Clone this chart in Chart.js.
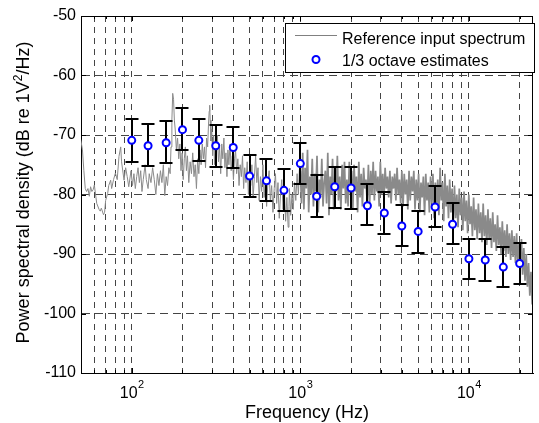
<!DOCTYPE html>
<html>
<head>
<meta charset="utf-8">
<script src="https://cdn.jsdelivr.net/npm/chart.js@4.4.0/dist/chart.umd.min.js"></script>
<style>
    html, body { margin: 0; padding: 0; background: #fff; }
    #wrap { width: 539px; height: 423px; position: relative; }
    #psdChart { display: block; width: 539px; height: 423px; }
</style>
</head>
<body>
<div id="wrap"><canvas id="psdChart" width="539" height="423"></canvas></div>
<script>
// 1/3 octave band centres (Hz) and estimated levels (dB re 1V^2/Hz)
const bandFreqs = [100, 125, 160, 200, 250, 315, 400, 500, 630, 800, 1000, 1250, 1600, 2000, 2500, 3150, 4000, 5000, 6300, 8000, 10000, 12500, 16000, 20000];
const bandLevels = [-70.9, -71.8, -71.3, -69.1, -70.9, -71.8, -72.1, -76.9, -77.7, -79.3, -74.8, -80.3, -78.7, -78.9, -81.9, -83.1, -85.3, -86.2, -82.1, -85.0, -90.8, -91.0, -92.2, -91.6];
const bandUpper = [-67.3, -68.2, -67.7, -65.5, -67.3, -68.4, -68.6, -73.4, -74.1, -75.7, -71.3, -76.7, -75.3, -75.3, -78.3, -79.6, -81.8, -82.7, -78.5, -81.4, -87.4, -87.5, -88.8, -88.2];
const bandLower = [-74.5, -75.2, -74.7, -72.6, -74.4, -75.3, -75.5, -80.5, -81.1, -82.8, -78.2, -83.8, -82.3, -82.4, -85.1, -86.7, -88.7, -89.8, -85.4, -88.3, -94.2, -94.5, -95.6, -95.0];

// reference input spectrum, [frequency Hz, level dB]
const spectrum = [
    [48, -69], [50, -71], [51, -72.5], [52, -76], [53, -79], [54, -79.5], [55, -79], [56, -80.3], [57, -78.7], [58, -79.5],
    [59, -79.2], [60, -78.4], [61, -80], [62, -81.5], [64, -82.5], [65, -82.8], [66, -82.3], [68, -83.4], [69, -83], [70, -81],
    [72, -79.8], [73, -78.5], [75, -77.6], [76, -79], [78, -77.5], [80, -76.4], [82, -77.5], [84, -73.6], [86, -72], [87, -74.5],
    [90, -77.6], [92, -75.5], [94, -77], [96, -78.7], [99, -76], [101, -78.5], [103, -76.5], [105, -79], [107, -77], [109, -75.5],
    [111, -78], [113, -76], [115, -79.5], [117, -77.5], [120, -75], [122, -77.5], [125, -79], [127, -76.5], [130, -78], [133, -75.5],
    [136, -77.5], [139, -80], [142, -76.5], [145, -78.5], [148, -76], [151, -78], [154, -75], [157, -80.2], [160, -77], [163, -78.5],
    [166, -75.5], [169, -76.5], [171, -72], [173, -67.5], [175, -63], [177, -64], [179, -67.5], [181, -69], [184, -72.5], [187, -70.5],
    [190, -74], [193, -71.5], [196, -76], [199, -73], [202, -77.5], [205, -74], [208, -72], [211, -76], [214, -73.5], [218, -78],
    [222, -74.5], [226, -76.5], [230, -73], [234, -77], [238, -75], [242, -79], [246, -74], [250, -76.5], [254, -72.5], [258, -75],
    [262, -71.5], [266, -74], [270, -72], [274, -75.5], [278, -70.5], [282, -72], [285, -68.5], [288, -66], [290, -65], [292, -67.5],
    [295, -71], [298, -69], [302, -73.5], [306, -70], [310, -75], [314, -71.5], [318, -73], [322, -70], [327, -74.5], [332, -72],
    [337, -76.5], [342, -71.5], [347, -74], [352, -70.5], [357, -75.5], [362, -73], [367, -77], [372, -72.5], [377, -75], [383, -71.5],
    [389, -76], [395, -73.5], [401, -77.5], [407, -74], [413, -72.5], [419, -76.5], [426, -74], [433, -78.5], [440, -75], [447, -77],
    [454, -73.5], [461, -79], [468, -75.5], [476, -78], [484, -74.5], [492, -80], [500, -76], [508, -78.5], [516, -75], [525, -80.5],
    [534, -77], [543, -73.5], [552, -78], [561, -75.5], [570, -81], [580, -77], [590, -79.5], [600, -75], [610, -80.5], [620, -77.5],
    [631, -82], [642, -78], [653, -76], [664, -81], [676, -78.5], [688, -83], [700, -79], [712, -76.5], [724, -81.5], [737, -78],
    [750, -84], [763, -80], [776, -77.5], [790, -82.5], [804, -79], [818, -84.5], [832, -80.5], [847, -85.5], [856, -82], [862, -79],
    [877, -83.5], [892, -80], [908, -82.5], [924, -78], [940, -81], [957, -76.5], [974, -80], [990, -75],
    [1000, -76], [1016, -81.5], [1033, -73], [1050, -82.5], [1067, -75.5], [1085, -79], [1103, -72.5], [1121, -83], [1139, -77], [1158, -80],
    [1177, -74], [1196, -82], [1216, -76.5], [1236, -79.5], [1256, -73.5], [1277, -83], [1298, -77.5], [1319, -80.5], [1341, -74], [1363, -82],
    [1385, -78], [1408, -76], [1431, -81.5], [1455, -73], [1479, -83.5], [1503, -77], [1528, -80], [1553, -74], [1578, -82.5], [1604, -76.5],
    [1631, -79.5], [1658, -73.5], [1685, -81], [1713, -77], [1741, -82.5], [1770, -75], [1799, -79], [1828, -74.5], [1858, -81.5], [1889, -77.5],
    [1920, -82], [1952, -74.5], [1984, -80], [2016, -76], [2049, -82.5], [2083, -75], [2117, -79.5], [2152, -77], [2188, -83], [2224, -74.5],
    [2260, -80.5], [2297, -76.5], [2335, -82], [2374, -75.5], [2413, -79], [2452, -77.5], [2493, -81.5], [2534, -75], [2575, -82], [2618, -76],
    [2661, -80], [2705, -74.5], [2749, -81], [2794, -76], [2840, -79.5], [2887, -77], [2935, -82], [2983, -74.5], [3032, -80], [3082, -76.5],
    [3133, -81], [3184, -75.5], [3237, -79], [3290, -77], [3344, -80.5], [3399, -76], [3455, -81.5], [3512, -77], [3570, -79], [3629, -76.5],
    [3688, -81], [3749, -75.5], [3811, -80], [3874, -77.5], [3937, -81.5], [4002, -76], [4068, -82], [4135, -76.5], [4203, -80], [4272, -77.5],
    [4342, -82.5], [4414, -76], [4486, -81], [4560, -77], [4635, -79.5], [4712, -76], [4789, -82.5], [4868, -77.5], [4948, -81], [5030, -76.5],
    [5113, -83], [5197, -78], [5282, -80.5], [5369, -77], [5458, -83.5], [5548, -76.5], [5639, -81], [5732, -78], [5826, -83], [5922, -77],
    [6020, -81.5], [6119, -76.5], [6220, -84], [6322, -78], [6426, -82], [6532, -77.5], [6639, -83.5], [6749, -75.5], [6860, -81], [6973, -78],
    [7088, -84.5], [7204, -76.5], [7323, -82], [7444, -78.5], [7566, -84], [7691, -77.5], [7818, -83], [7946, -79], [8077, -85], [8210, -78.5],
    [8345, -84], [8483, -80], [8623, -85.5], [8765, -79], [8909, -83.5], [9056, -80.5], [9205, -86], [9357, -79.5], [9511, -84.5], [9667, -81],
    [9826, -86.5], [9988, -80], [10153, -85], [10320, -82], [10490, -87], [10663, -80.5], [10838, -86], [11017, -82.5], [11198, -87.5], [11383, -81.5],
    [11570, -86.5], [11761, -83], [11954, -88], [12151, -81.5], [12351, -87], [12555, -83.5], [12761, -88.5], [12971, -82.5], [13185, -87.5], [13402, -84],
    [13623, -89], [13847, -83], [14075, -88], [14307, -85], [14543, -89.5], [14782, -83.5], [15026, -88.5], [15273, -85.5], [15525, -90], [15780, -84.5],
    [16040, -89.5], [16304, -86], [16573, -90.5], [16846, -85], [17123, -90], [17405, -86.5], [17692, -91], [17983, -86], [18279, -90.5], [18580, -87],
    [18886, -91.5], [19197, -86.5], [19513, -92], [19835, -88], [20161, -92.5], [20493, -87.5], [20831, -93.5], [21174, -89], [21523, -94.5], [21877, -90],
    [22237, -95.5], [22604, -91.5], [22976, -97], [23354, -93], [23739, -98.5], [24000, -96]
];

// grid positions and tick labels
const xGrid = [60, 70, 80, 90, 100, 200, 300, 400, 500, 600, 700, 800, 900, 1000, 2000, 3000, 4000, 5000, 6000, 7000, 8000, 9000, 10000, 20000];
const xMajor = [100, 1000, 10000];
const xMajorExp = ['2', '3', '4'];
const yTicks = [-110, -100, -90, -80, -70, -60, -50];

const FONT = "'Liberation Sans', Arial, Helvetica, sans-serif";
Chart.defaults.font.family = FONT;

// error bars drawn right after the spectrum so the circles sit on top
const errorBars = {
    id: 'errorBars',
    afterDatasetDraw(chart, args) {
        if (args.index !== 1) return;
        const { ctx, scales: { x, y }, chartArea: a } = chart;
        ctx.save();
        ctx.beginPath();
        ctx.rect(a.left, a.top, a.right - a.left, a.bottom - a.top);
        ctx.clip();
        ctx.strokeStyle = '#000';
        ctx.lineWidth = 2;
        bandFreqs.forEach((f, i) => {
            const px = Math.round(x.getPixelForValue(f));
            const yt = Math.round(y.getPixelForValue(bandUpper[i]));
            const yb = Math.round(y.getPixelForValue(bandLower[i]));
            ctx.beginPath();
            ctx.moveTo(px, yt); ctx.lineTo(px, yb);
            ctx.moveTo(px - 6.5, yt); ctx.lineTo(px + 6.5, yt);
            ctx.moveTo(px - 6.5, yb); ctx.lineTo(px + 6.5, yb);
            ctx.stroke();
        });
        ctx.restore();
    }
};

// frame, inward ticks, x labels, axis titles and legend box
const decorations = {
    id: 'decorations',
    afterDraw(chart) {
        const { ctx, scales: { x, y }, chartArea: a } = chart;
        ctx.save();
        ctx.strokeStyle = '#000';
        ctx.lineWidth = 1;
        ctx.beginPath();
        ctx.moveTo(a.left, a.top + 0.5); ctx.lineTo(a.right, a.top + 0.5);
        ctx.moveTo(a.right - 0.5, a.top); ctx.lineTo(a.right - 0.5, a.bottom);
        // tick marks pointing inwards
        yTicks.forEach(v => {
            const py = Math.round(y.getPixelForValue(v)) + 0.5;
            ctx.moveTo(a.left, py); ctx.lineTo(a.left + 5, py);
            ctx.moveTo(a.right, py); ctx.lineTo(a.right - 5, py);
        });
        xGrid.forEach(v => {
            const px = Math.round(x.getPixelForValue(v)) + 0.5;
            const len = xMajor.includes(v) ? 5 : 3;
            ctx.moveTo(px, a.bottom); ctx.lineTo(px, a.bottom - len);
            ctx.moveTo(px, a.top); ctx.lineTo(px, a.top + len);
        });
        ctx.stroke();

        // x tick labels: 10 with raised exponent
        ctx.fillStyle = '#000';
        ctx.textBaseline = 'alphabetic';
        xMajor.forEach((v, i) => {
            const px = x.getPixelForValue(v);
            ctx.font = '16px ' + FONT;
            const wBase = ctx.measureText('10').width;
            ctx.font = '11px ' + FONT;
            const wExp = ctx.measureText(xMajorExp[i]).width;
            const x0 = px - (wBase + wExp) / 2;
            ctx.font = '16px ' + FONT;
            ctx.textAlign = 'left';
            ctx.fillText('10', x0, 398);
            ctx.font = '11px ' + FONT;
            ctx.fillText(xMajorExp[i], x0 + wBase + 0.5, 388);
        });

        // x axis title
        ctx.font = '18px ' + FONT;
        ctx.textAlign = 'center';
        ctx.fillText('Frequency (Hz)', (a.left + a.right) / 2, 418);

        // y axis title with superscript
        const p1 = 'Power spectral density (dB re 1V', p2 = '2', p3 = '/Hz)';
        ctx.font = '18px ' + FONT;
        const w1 = ctx.measureText(p1).width, w3 = ctx.measureText(p3).width;
        ctx.font = '12px ' + FONT;
        const w2 = ctx.measureText(p2).width;
        const total = w1 + w2 + w3;
        ctx.translate(29, (a.top + a.bottom) / 2 - 2);
        ctx.rotate(-Math.PI / 2);
        ctx.textAlign = 'left';
        ctx.font = '18px ' + FONT;
        ctx.fillText(p1, -total / 2, 0);
        ctx.font = '12px ' + FONT;
        ctx.fillText(p2, -total / 2 + w1, -7);
        ctx.font = '18px ' + FONT;
        ctx.fillText(p3, -total / 2 + w1 + w2, 0);
        ctx.restore();

        // legend
        ctx.save();
        ctx.fillStyle = '#fff';
        ctx.fillRect(286, 24, 249, 48);
        ctx.strokeStyle = '#000';
        ctx.lineWidth = 1;
        ctx.strokeRect(285.5, 23.5, 249, 49);
        ctx.strokeStyle = '#808080';
        ctx.beginPath();
        ctx.moveTo(295, 35.5); ctx.lineTo(337, 35.5);
        ctx.stroke();
        ctx.beginPath();
        ctx.arc(316, 59.5, 3.5, 0, Math.PI * 2);
        ctx.fillStyle = '#fff';
        ctx.fill();
        ctx.strokeStyle = '#0000ff';
        ctx.lineWidth = 2;
        ctx.stroke();
        ctx.fillStyle = '#000';
        ctx.font = '16px ' + FONT;
        ctx.textAlign = 'left';
        ctx.textBaseline = 'alphabetic';
        ctx.fillText('Reference input spectrum', 342, 43.5);
        ctx.fillText('1/3 octave estimates', 342, 66);
        ctx.restore();
    }
};

const toXY = p => ({ x: p[0], y: p[1] });

new Chart(document.getElementById('psdChart'), {
    type: 'scatter',
    data: {
        datasets: [
            {
                // sparse part of the spectrum, thin line
                label: 'Reference input spectrum',
                data: spectrum.filter(p => p[0] <= 1000).map(toXY),
                showLine: true,
                borderColor: '#8a8a8a',
                borderWidth: 1,
                pointRadius: 0,
                tension: 0,
                order: 3
            },
            {
                // dense part of the spectrum above 1 kHz
                label: 'Reference input spectrum (dense)',
                data: spectrum.filter(p => p[0] >= 1000).map(toXY),
                showLine: true,
                borderColor: '#8a8a8a',
                borderWidth: 1.7,
                pointRadius: 0,
                tension: 0,
                order: 2
            },
            {
                label: '1/3 octave estimates',
                data: bandFreqs.map((f, i) => ({ x: f, y: bandLevels[i] })),
                showLine: false,
                pointRadius: 3.5,
                pointBorderWidth: 2,
                pointBorderColor: '#0000ff',
                pointBackgroundColor: '#ffffff',
                order: 1
            }
        ]
    },
    options: {
        responsive: false,
        animation: false,
        devicePixelRatio: 1,
        layout: { padding: { top: 16, right: 1, left: 0, bottom: 0 } },
        plugins: {
            legend: { display: false },
            tooltip: { enabled: false }
        },
        scales: {
            x: {
                type: 'logarithmic',
                min: 50,
                max: 24000,
                afterBuildTicks: s => { s.ticks = xGrid.map(v => ({ value: v })); },
                afterFit: s => { s.height = 50; },
                ticks: { display: false },
                grid: { color: '#444', lineWidth: 1, drawTicks: false },
                border: { display: true, color: '#000', width: 1, dash: [6, 5] }
            },
            y: {
                min: -110,
                max: -50,
                afterBuildTicks: s => { s.ticks = yTicks.map(v => ({ value: v })); },
                afterFit: s => { s.width = 81; },
                ticks: { color: '#000', font: { size: 16 }, padding: 5 },
                grid: { color: '#444', lineWidth: 1, drawTicks: false },
                border: { display: true, color: '#000', width: 1, dash: [8, 5] }
            }
        }
    },
    plugins: [errorBars, decorations]
});
</script>
</body>
</html>
